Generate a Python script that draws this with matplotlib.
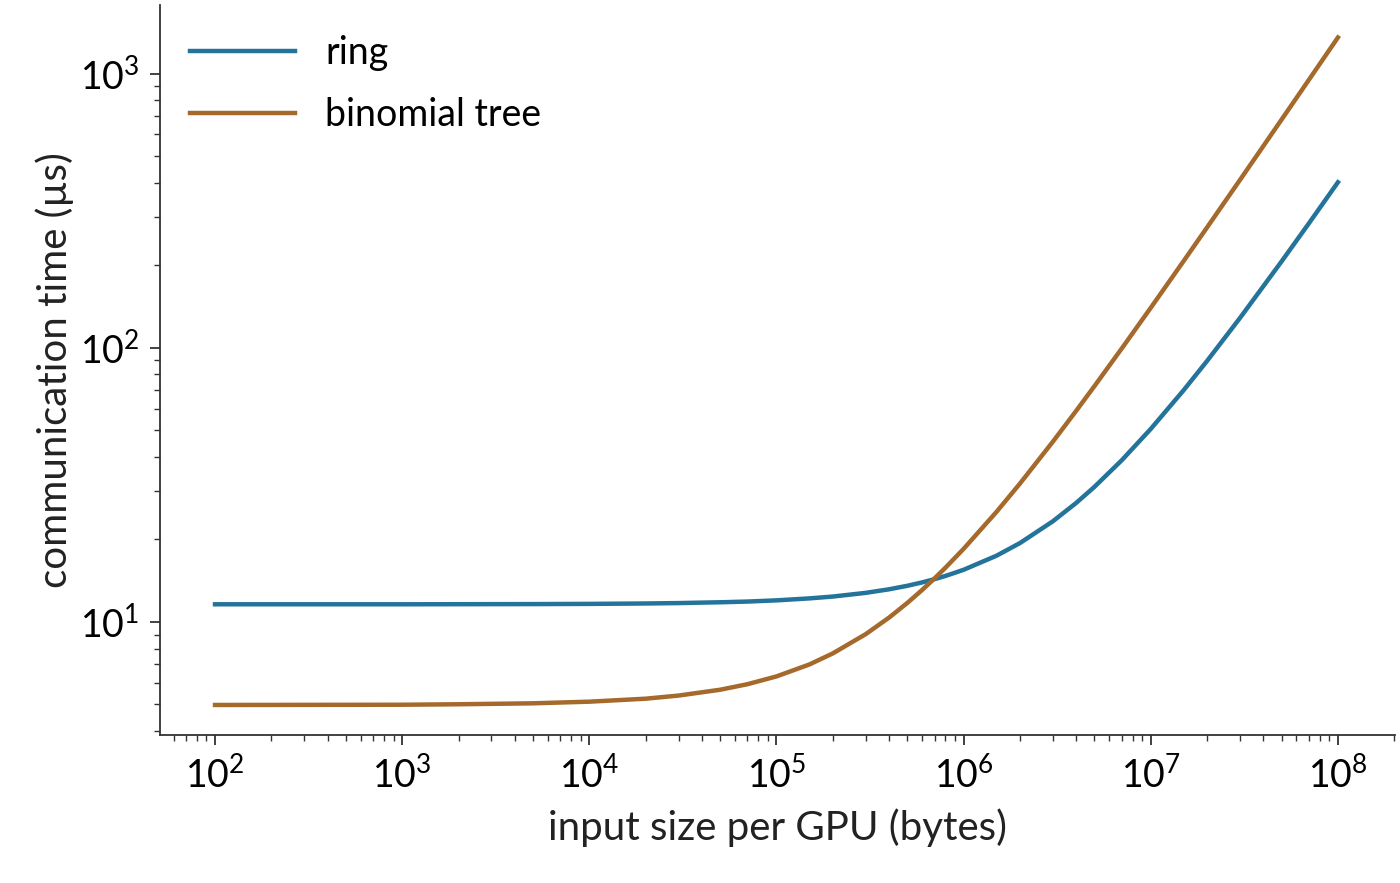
import matplotlib.pyplot as plt

plt.rcParams["font.family"] = ["Lato", "DejaVu Sans"]
plt.rcParams["mathtext.fontset"] = "custom"
plt.rcParams["mathtext.rm"] = "Lato"

# values
input_size = [1e2, 1e3, 2e3, 5e3, 1e4, 2e4, 3e4, 5e4, 7e4, 1e5, 1.5e5, 2e5, 3e5,
              4e5, 5e5, 6e5, 7e5, 8e5, 1e6, 1.5e6, 2e6, 3e6, 4e6, 5e6, 7e6, 1e7,
              1.5e7, 2e7, 3e7, 5e7, 7e7, 1e8]
ring = [11.6, 11.6, 11.61, 11.62, 11.64, 11.68, 11.72, 11.8, 11.87, 11.99, 12.19,
        12.38, 12.77, 13.16, 13.55, 13.94, 14.33, 14.72, 15.5, 17.45, 19.4, 23.3,
        27.2, 31.1, 38.9, 50.6, 70.1, 89.6, 128.6, 206.6, 284.6, 401.6]
binomial_tree = [4.98, 4.99, 5.01, 5.05, 5.12, 5.25, 5.39, 5.66, 5.93, 6.33, 7.0,
                 7.68, 9.03, 10.38, 11.73, 13.08, 14.43, 15.78, 18.48, 25.23, 31.98,
                 45.48, 58.98, 72.48, 99.48, 139.98, 207.5, 275.0, 410.0, 680.0,
                 950.0, 1355.0]

fig = plt.figure(figsize=(14, 8.83), dpi=100)
ax = fig.add_axes([160 / 1400, 148 / 883, 1235 / 1400, 730 / 883])
ax.plot(input_size, ring, color="#23739a", lw=3.2, label="ring")
ax.plot(input_size, binomial_tree, color="#a5692b", lw=3.2, label="binomial tree")
ax.set_xscale("log")
ax.set_yscale("log")
ax.set_xlim(10 ** 1.706, 10 ** 8.305)
ax.set_ylim(3.87, 1780)

ax.spines["top"].set_visible(False)
ax.spines["right"].set_visible(False)
for s in ["left", "bottom"]:
    ax.spines[s].set_linewidth(1.3)
    ax.spines[s].set_color("#333333")
ax.tick_params(which="major", labelsize=27, length=7, width=1.3, color="#333333",
               pad=8)
ax.tick_params(which="minor", length=4, width=1.0, color="#333333")
ax.set_xlabel("input size per GPU (bytes)", fontsize=29, color="#222222", labelpad=10)
ax.set_ylabel("communication time (µs)", fontsize=29, color="#222222", labelpad=4)
ax.legend(loc="upper left", fontsize=27, frameon=False, handlelength=2.8,
          borderaxespad=0.4, labelspacing=0.7)
fig.savefig("out.png", dpi=100)
